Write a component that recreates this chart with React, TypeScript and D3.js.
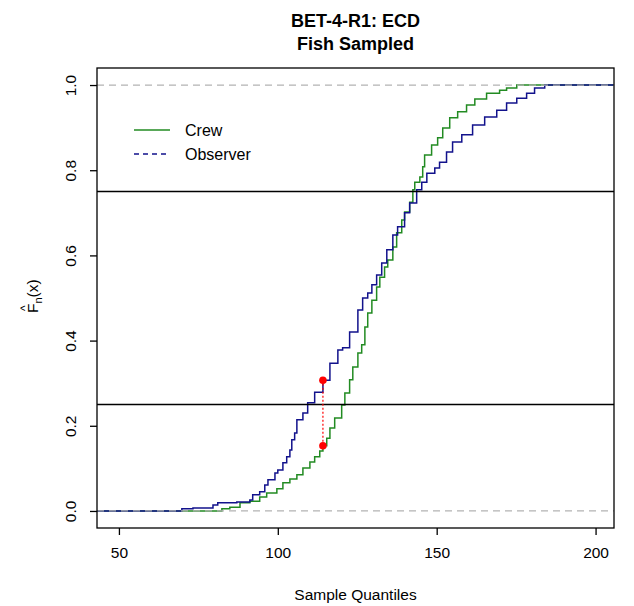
import React, { useEffect, useRef } from "react";
import * as d3 from "d3";

const crewX = [82.4, 84.9, 88.1, 91.2, 94.3, 96.5, 99.7, 101.6, 103.8, 106.0, 107.9, 110.1, 111.6, 113.2, 114.2, 115.4, 116.4, 117.9, 120.1, 121.1, 122.6, 123.6, 125.2, 126.4, 127.4, 128.3, 129.6, 131.1, 132.1, 133.6, 134.6, 136.2, 137.4, 139.0, 139.9, 141.5, 142.5, 143.1, 144.7, 145.6, 146.2, 148.4, 150.3, 151.9, 154.1, 156.6, 159.4, 162.0, 165.7, 169.8, 172.0, 175.2];
const crewF = [0.005, 0.009, 0.019, 0.023, 0.033, 0.042, 0.052, 0.066, 0.075, 0.085, 0.101, 0.115, 0.127, 0.141, 0.153, 0.171, 0.195, 0.218, 0.249, 0.277, 0.308, 0.338, 0.371, 0.39, 0.432, 0.465, 0.495, 0.526, 0.549, 0.573, 0.589, 0.62, 0.653, 0.683, 0.702, 0.725, 0.754, 0.772, 0.784, 0.808, 0.836, 0.859, 0.876, 0.899, 0.923, 0.937, 0.953, 0.967, 0.981, 0.988, 0.993, 1.0];

const obsX = [69.8, 73.3, 79.6, 81.1, 87.1, 91.2, 92.1, 94.3, 95.9, 96.9, 99.1, 100.0, 101.6, 102.8, 103.8, 104.4, 105.3, 106.0, 107.9, 109.4, 111.6, 114.2, 116.4, 118.9, 120.4, 122.6, 125.2, 126.7, 128.3, 129.6, 131.1, 132.7, 134.3, 136.2, 137.7, 139.9, 141.5, 143.7, 145.3, 146.9, 149.4, 150.9, 153.1, 155.0, 157.9, 161.3, 165.1, 168.9, 172.0, 175.2, 178.3, 180.8, 184.0];
const obsF = [0.005, 0.007, 0.014, 0.019, 0.021, 0.026, 0.038, 0.045, 0.061, 0.073, 0.089, 0.096, 0.113, 0.127, 0.143, 0.167, 0.183, 0.214, 0.23, 0.254, 0.279, 0.307, 0.347, 0.378, 0.383, 0.42, 0.472, 0.5, 0.512, 0.531, 0.554, 0.582, 0.613, 0.648, 0.667, 0.7, 0.723, 0.754, 0.772, 0.793, 0.805, 0.819, 0.843, 0.866, 0.883, 0.906, 0.925, 0.941, 0.958, 0.969, 0.981, 0.993, 1.0];

// max distance marker
const ksX = 114.2;
const ksLow = 0.153;
const ksHigh = 0.307;

const quartileLines = [0.25, 0.75];
const xTicks = [50, 100, 150, 200];
const yTicks = [0, 0.2, 0.4, 0.6, 0.8, 1.0];
const xDomain = [43.1, 205.8];
const yDomain = [-0.04, 1.04];

const CREW = "#228b22";
const OBS = "#12128c";
const FONT = "'Liberation Sans', Arial, sans-serif";

const App = () => {
  const svgRef = useRef<SVGSVGElement>(null);

  useEffect(() => {
    const width = 634;
    const height = 606;
    const margin = { top: 68, right: 20, bottom: 78, left: 97 };
    const w = width - margin.left - margin.right;
    const h = height - margin.top - margin.bottom;

    const svg = d3.select(svgRef.current);
    svg.selectAll("*").remove();

    const x = d3.scaleLinear().domain(xDomain).range([0, w]);
    const y = d3.scaleLinear().domain(yDomain).range([h, 0]);

    // titles
    const titles = ["BET-4-R1: ECD", "Fish Sampled"];
    titles.forEach((t, i) => {
      svg
        .append("text")
        .attr("x", margin.left + w / 2)
        .attr("y", 27 + i * 23)
        .attr("text-anchor", "middle")
        .attr("font-family", FONT)
        .attr("font-weight", "bold")
        .attr("font-size", 18)
        .text(t);
    });

    const g = svg
      .append("g")
      .attr("transform", `translate(${margin.left},${margin.top})`);

    // step lines
    const line = d3
      .line<[number, number]>()
      .x((d) => x(d[0]))
      .y((d) => y(d[1]))
      .curve(d3.curveStepAfter);

    const steps = (xs: number[], fs: number[]): [number, number][] => [
      [xDomain[0], 0],
      ...xs.map((v, i) => [v, fs[i]] as [number, number]),
      [xDomain[1], 1],
    ];

    g.append("path")
      .datum(steps(crewX, crewF))
      .attr("fill", "none")
      .attr("stroke", CREW)
      .attr("stroke-width", 1.5)
      .attr("d", line);

    g.append("path")
      .datum(steps(obsX, obsF))
      .attr("fill", "none")
      .attr("stroke", OBS)
      .attr("stroke-width", 1.5)
      .attr("d", line);

    // 0 / 1 reference lines
    [0, 1].forEach((v) => {
      g.append("line")
        .attr("x1", 0)
        .attr("x2", w)
        .attr("y1", y(v))
        .attr("y2", y(v))
        .attr("stroke", "#b3b3b3")
        .attr("stroke-width", 1.3)
        .attr("stroke-dasharray", "7,5");
    });

    // quartile lines
    quartileLines.forEach((v) => {
      g.append("line")
        .attr("x1", 0)
        .attr("x2", w)
        .attr("y1", y(v))
        .attr("y2", y(v))
        .attr("stroke", "#000")
        .attr("stroke-width", 1.3);
    });

    // KS distance
    g.append("line")
      .attr("x1", x(ksX))
      .attr("x2", x(ksX))
      .attr("y1", y(ksLow))
      .attr("y2", y(ksHigh))
      .attr("stroke", "red")
      .attr("stroke-width", 1.2)
      .attr("stroke-dasharray", "2,2");

    g.selectAll(".ks")
      .data([ksLow, ksHigh])
      .enter()
      .append("circle")
      .attr("cx", x(ksX))
      .attr("cy", (d) => y(d))
      .attr("r", 3.8)
      .attr("fill", "red");

    // box
    g.append("rect")
      .attr("width", w)
      .attr("height", h)
      .attr("fill", "none")
      .attr("stroke", "#000")
      .attr("stroke-width", 1.3);

    // axes
    const xAxis = g
      .append("g")
      .attr("transform", `translate(0,${h})`)
      .call(d3.axisBottom(x).tickValues(xTicks).tickSize(7).tickPadding(12).tickFormat(d3.format("d")));
    xAxis.select(".domain").remove();
    xAxis.selectAll("line").attr("stroke-width", 1.3);
    xAxis
      .selectAll("text")
      .attr("font-family", FONT)
      .attr("font-size", 15.5)
      .attr("fill", "#000");

    const yAxis = g
      .append("g")
      .call(d3.axisLeft(y).tickValues(yTicks).tickSize(7).tickFormat(d3.format(".1f")));
    yAxis.select(".domain").remove();
    yAxis.selectAll("line").attr("stroke-width", 1.3);
    yAxis
      .selectAll("text")
      .attr("x", 0)
      .attr("y", -21)
      .attr("dy", 0)
      .attr("text-anchor", "middle")
      .attr("transform", "rotate(-90)")
      .attr("font-family", FONT)
      .attr("font-size", 15.5)
      .attr("fill", "#000");

    // axis titles
    svg
      .append("text")
      .attr("x", margin.left + w / 2)
      .attr("y", 600)
      .attr("text-anchor", "middle")
      .attr("font-family", FONT)
      .attr("font-size", 15.5)
      .text("Sample Quantiles");

    const ylab = svg
      .append("g")
      .attr("transform", `translate(38,${margin.top + h / 2 + 15}) rotate(-90)`)
      .attr("font-family", FONT);
    const yt = ylab.append("text").attr("font-size", 15.5);
    yt.append("tspan").text("F");
    yt.append("tspan").attr("dy", 4).attr("font-size", 11).text("n");
    yt.append("tspan").attr("dy", -4).text("(x)");
    ylab
      .append("text")
      .attr("x", 4.8)
      .attr("y", -9)
      .attr("text-anchor", "middle")
      .attr("font-size", 12)
      .text("^");

    // legend
    const legend = [
      { label: "Crew", color: CREW, dash: null },
      { label: "Observer", color: OBS, dash: "5,4" },
    ];
    const lg = svg.append("g").attr("transform", "translate(134,130)");
    legend.forEach((d, i) => {
      lg.append("line")
        .attr("x1", 0)
        .attr("x2", 36)
        .attr("y1", i * 24)
        .attr("y2", i * 24)
        .attr("stroke", d.color)
        .attr("stroke-width", 1.5)
        .attr("stroke-dasharray", d.dash);
      lg.append("text")
        .attr("x", 51)
        .attr("y", i * 24)
        .attr("dy", "0.36em")
        .attr("font-family", FONT)
        .attr("font-size", 16)
        .text(d.label);
    });
  }, []);

  return (
    <svg
      ref={svgRef}
      width={634}
      height={606}
      style={{ position: "absolute", left: 0, top: 0, background: "#fff" }}
    />
  );
};

export default App;
